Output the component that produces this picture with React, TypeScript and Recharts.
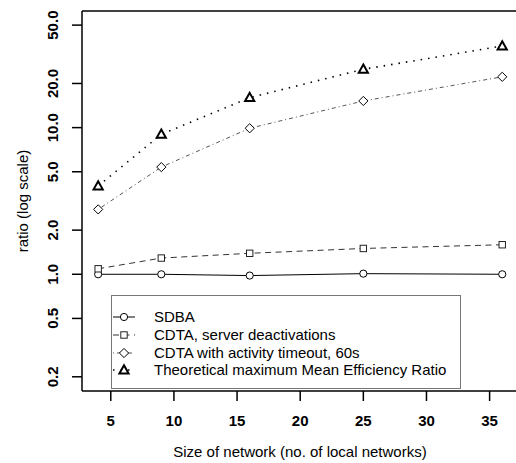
import React from "react";
import {
  ComposedChart, Line, XAxis, YAxis, Legend, ReferenceLine,
} from "recharts";

// network sizes (no. of local networks)
const sizes = [4, 9, 16, 25, 36];
const sdba = [1.0, 1.0, 0.98, 1.01, 1.0];
const cdtaServer = [1.09, 1.29, 1.39, 1.5, 1.59];
const cdtaTimeout = [2.77, 5.38, 9.9, 15.2, 22.2];
const theoMax = [4, 9, 16, 25, 36];

const xTicks = [5, 10, 15, 20, 25, 30, 35];
const yTicks = [0.2, 0.5, 1, 2, 5, 10, 20, 50];
const yTickLabels = ["0.2", "0.5", "1.0", "2.0", "5.0", "10.0", "20.0", "50.0"];

const seriesNames = [
  "SDBA",
  "CDTA, server deactivations",
  "CDTA with activity timeout, 60s",
  "Theoretical maximum Mean Efficiency Ratio",
];

const data = sizes.map((n, i) => ({
  n,
  sdba: sdba[i],
  cdtaServer: cdtaServer[i],
  cdtaTimeout: cdtaTimeout[i],
  theoMax: theoMax[i],
}));

const FONT = "'Liberation Sans', Arial, sans-serif";
const X_DOMAIN: [number, number] = [2.72, 37.28];
const Y_DOMAIN: [number, number] = [0.16, 62.4];

// marker shapes, R pch 1 / 0 / 5 / 2
const Marker = ({ kind, cx, cy }: { kind: string; cx: number; cy: number }) => {
  if (kind === "circle")
    return <circle cx={cx} cy={cy} r={3.6} fill="#fff" stroke="#000" strokeWidth={1} />;
  if (kind === "square")
    return <rect x={cx - 3.2} y={cy - 3.2} width={6.4} height={6.4} fill="#fff" stroke="#222" strokeWidth={1} />;
  if (kind === "diamond")
    return (
      <polygon
        points={`${cx},${cy - 4.6} ${cx + 4.6},${cy} ${cx},${cy + 4.6} ${cx - 4.6},${cy}`}
        fill="#fff" stroke="#000" strokeWidth={1}
      />
    );
  return (
    <polygon
      points={`${cx},${cy - 4.8} ${cx + 4.6},${cy + 3.4} ${cx - 4.6},${cy + 3.4}`}
      fill="#fff" stroke="#000" strokeWidth={2}
    />
  );
};

const styles = [
  { key: "sdba", kind: "circle", stroke: "#000", dash: undefined, width: 1 },
  { key: "cdtaServer", kind: "square", stroke: "#333", dash: "6 4.5", width: 1 },
  { key: "cdtaTimeout", kind: "diamond", stroke: "#555", dash: "1 3 4 3", width: 1 },
  { key: "theoMax", kind: "triangle", stroke: "#000", dash: "1.5 6", width: 1.6 },
];

const dotFor = (kind: string) => (p: any) =>
  <Marker key={`${kind}-${p.index}`} kind={kind} cx={p.cx} cy={p.cy} />;

const XTick = (p: any) => (
  <text x={p.x} y={420} textAnchor="middle" dominantBaseline="central"
    fontFamily={FONT} fontWeight="bold" fontSize={15} fill="#000">
    {p.payload.value}
  </text>
);

const YTick = (p: any) => {
  const i = yTicks.indexOf(p.payload.value);
  return (
    <text x={53} y={p.y} transform={`rotate(-90, 53, ${p.y})`} textAnchor="middle"
      dominantBaseline="central" fontFamily={FONT} fontWeight="bold" fontSize={15} fill="#000">
      {yTickLabels[i]}
    </text>
  );
};

const renderLegend = () => (
  <div style={{
    width: 350, height: 94, boxSizing: "border-box", border: "1px solid #777",
    background: "#fff", fontFamily: FONT, fontSize: 15, color: "#000", paddingTop: 12,
  }}>
    {styles.map((s, i) => (
      <div key={s.key} style={{ position: "relative", height: 17.8, lineHeight: "17.8px" }}>
        <svg width={30} height={18} style={{ position: "absolute", left: 0, top: 0 }}>
          <line x1={1} y1={9} x2={23} y2={9} stroke={s.stroke}
            strokeDasharray={s.dash} strokeWidth={s.width} />
          <Marker kind={s.kind} cx={12} cy={9} />
        </svg>
        <span style={{ position: "absolute", left: 42, top: 0, whiteSpace: "nowrap" }}>
          {seriesNames[i]}
        </span>
      </div>
    ))}
  </div>
);

export default function App() {
  return (
    <div style={{ position: "absolute", left: 0, top: 0, width: 516, height: 463, overflow: "hidden", background: "#fff" }}>
      <ComposedChart width={540} height={463} data={data}
        margin={{ top: 11, right: 21.6, bottom: 32, left: 10 }}>
        <XAxis
          dataKey="n" type="number" domain={X_DOMAIN} allowDataOverflow ticks={xTicks}
          height={40} tickSize={10} tick={<XTick />}
          axisLine={{ stroke: "#000", strokeWidth: 1.5 }}
          tickLine={{ stroke: "#000", strokeWidth: 1.5 }}
          label={{
            content: () => (
              <text x={300} y={457} textAnchor="middle" fontFamily={FONT} fontSize={15} fill="#000">
                Size of network (no. of local networks)
              </text>
            ),
          }}
        />
        <YAxis
          type="number" scale="log" domain={Y_DOMAIN} allowDataOverflow ticks={yTicks}
          width={72} tickSize={10} tick={<YTick />}
          axisLine={{ stroke: "#000", strokeWidth: 1.5 }}
          tickLine={{ stroke: "#000", strokeWidth: 1.5 }}
          label={{
            content: () => (
              <text x={22} y={201} transform="rotate(-90, 22, 201)" textAnchor="middle"
                dominantBaseline="central" fontFamily={FONT} fontSize={15} fill="#000">
                ratio (log scale)
              </text>
            ),
          }}
        />
        <ReferenceLine y={Y_DOMAIN[1]} stroke="#000" strokeWidth={1.5} />
        {styles.map(s => (
          <Line key={s.key} dataKey={s.key} type="linear" stroke={s.stroke}
            strokeWidth={s.width} strokeDasharray={s.dash}
            dot={dotFor(s.kind)} activeDot={false} isAnimationActive={false} />
        ))}
        <Legend layout="vertical" align="center" verticalAlign="middle"
          content={renderLegend}
          wrapperStyle={{ left: 111, top: 295, width: 350, height: 94, margin: 0 }} />
      </ComposedChart>
    </div>
  );
}
